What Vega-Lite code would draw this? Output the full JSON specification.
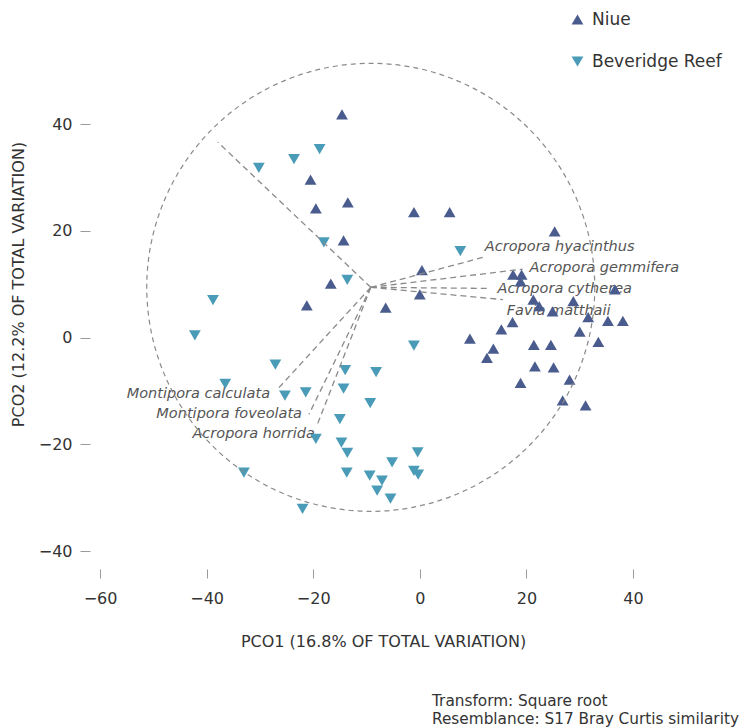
{
  "$schema": "https://vega.github.io/schema/vega-lite/v6.json",
  "width": 533,
  "height": 427,
  "autosize": {"type": "none"},
  "padding": {"left": 100, "top": 124, "right": 108, "bottom": 177},
  "background": "white",
  "title": {
    "text": ["Transform: Square root", "Resemblance: S17 Bray Curtis similarity"],
    "orient": "bottom",
    "anchor": "start",
    "frame": "group",
    "align": "left",
    "dx": 332,
    "offset": 45,
    "font": "DejaVu Sans",
    "fontSize": 15.3,
    "fontWeight": "normal",
    "color": "#333333",
    "lineHeight": 18
  },
  "datasets": {
    "samples": [
      {"x": -14.6, "y": 41.8, "location": "Niue"},
      {"x": -20.5, "y": 29.6, "location": "Niue"},
      {"x": -19.5, "y": 24.2, "location": "Niue"},
      {"x": -13.5, "y": 25.3, "location": "Niue"},
      {"x": -14.3, "y": 18.2, "location": "Niue"},
      {"x": -1.1, "y": 23.5, "location": "Niue"},
      {"x": 5.6, "y": 23.5, "location": "Niue"},
      {"x": -16.7, "y": 10.1, "location": "Niue"},
      {"x": -21.2, "y": 6.0, "location": "Niue"},
      {"x": -6.4, "y": 5.6, "location": "Niue"},
      {"x": 0.4, "y": 12.6, "location": "Niue"},
      {"x": 0.0, "y": 8.1, "location": "Niue"},
      {"x": 25.3, "y": 19.9, "location": "Niue"},
      {"x": 17.5, "y": 11.8, "location": "Niue"},
      {"x": 19.1, "y": 11.8, "location": "Niue"},
      {"x": 18.9, "y": 10.5, "location": "Niue"},
      {"x": 21.3, "y": 7.1, "location": "Niue"},
      {"x": 22.4, "y": 5.9, "location": "Niue"},
      {"x": 28.8, "y": 6.8, "location": "Niue"},
      {"x": 36.6, "y": 9.0, "location": "Niue"},
      {"x": 24.9, "y": 4.9, "location": "Niue"},
      {"x": 31.6, "y": 3.8, "location": "Niue"},
      {"x": 35.3, "y": 3.1, "location": "Niue"},
      {"x": 38.1, "y": 3.1, "location": "Niue"},
      {"x": 30.0, "y": 1.1, "location": "Niue"},
      {"x": 33.5, "y": -0.8, "location": "Niue"},
      {"x": 17.4, "y": 2.9, "location": "Niue"},
      {"x": 15.3, "y": 1.5, "location": "Niue"},
      {"x": 9.4, "y": -0.2, "location": "Niue"},
      {"x": 13.8, "y": -2.1, "location": "Niue"},
      {"x": 12.6, "y": -3.8, "location": "Niue"},
      {"x": 21.4, "y": -1.4, "location": "Niue"},
      {"x": 24.6, "y": -1.4, "location": "Niue"},
      {"x": 21.6, "y": -5.4, "location": "Niue"},
      {"x": 25.1, "y": -5.6, "location": "Niue"},
      {"x": 18.9, "y": -8.5, "location": "Niue"},
      {"x": 28.1, "y": -7.9, "location": "Niue"},
      {"x": 26.8, "y": -11.8, "location": "Niue"},
      {"x": 31.1, "y": -12.7, "location": "Niue"},
      {"x": -18.8, "y": 35.3, "location": "Beveridge Reef"},
      {"x": -23.6, "y": 33.4, "location": "Beveridge Reef"},
      {"x": -30.2, "y": 31.8, "location": "Beveridge Reef"},
      {"x": -18.0, "y": 17.8, "location": "Beveridge Reef"},
      {"x": -13.6, "y": 10.8, "location": "Beveridge Reef"},
      {"x": 7.6, "y": 16.2, "location": "Beveridge Reef"},
      {"x": -38.8, "y": 7.0, "location": "Beveridge Reef"},
      {"x": -42.2, "y": 0.4, "location": "Beveridge Reef"},
      {"x": -27.1, "y": -5.1, "location": "Beveridge Reef"},
      {"x": -36.5, "y": -8.7, "location": "Beveridge Reef"},
      {"x": -25.3, "y": -10.9, "location": "Beveridge Reef"},
      {"x": -21.4, "y": -10.3, "location": "Beveridge Reef"},
      {"x": -14.0, "y": -6.1, "location": "Beveridge Reef"},
      {"x": -14.3, "y": -9.6, "location": "Beveridge Reef"},
      {"x": -15.0, "y": -15.3, "location": "Beveridge Reef"},
      {"x": -19.5, "y": -19.0, "location": "Beveridge Reef"},
      {"x": -14.7, "y": -19.7, "location": "Beveridge Reef"},
      {"x": -13.6, "y": -21.6, "location": "Beveridge Reef"},
      {"x": -13.7, "y": -25.3, "location": "Beveridge Reef"},
      {"x": -33.0, "y": -25.3, "location": "Beveridge Reef"},
      {"x": -22.0, "y": -32.1, "location": "Beveridge Reef"},
      {"x": -8.2, "y": -6.5, "location": "Beveridge Reef"},
      {"x": -9.3, "y": -12.3, "location": "Beveridge Reef"},
      {"x": -1.1, "y": -1.5, "location": "Beveridge Reef"},
      {"x": -0.4, "y": -21.5, "location": "Beveridge Reef"},
      {"x": -5.2, "y": -23.4, "location": "Beveridge Reef"},
      {"x": -9.4, "y": -25.9, "location": "Beveridge Reef"},
      {"x": -7.1, "y": -26.8, "location": "Beveridge Reef"},
      {"x": -8.0, "y": -28.7, "location": "Beveridge Reef"},
      {"x": -5.5, "y": -30.2, "location": "Beveridge Reef"},
      {"x": -1.1, "y": -25.0, "location": "Beveridge Reef"},
      {"x": -0.3, "y": -25.7, "location": "Beveridge Reef"}
    ],
    "vectors": [
      {"species": "", "x0": -9.2, "y0": 9.4, "x1": -37.9, "y1": 36.6, "lx": -37.9, "ly": 36.6, "side": "none"},
      {"species": "Acropora hyacinthus", "x0": -9.2, "y0": 9.4, "x1": 11.8, "y1": 15.0, "lx": 12.2, "ly": 16.9, "side": "right"},
      {"species": "Acropora gemmifera", "x0": -9.2, "y0": 9.4, "x1": 19.3, "y1": 12.8, "lx": 20.6, "ly": 13.1, "side": "right"},
      {"species": "Acropora cytherea", "x0": -9.2, "y0": 9.4, "x1": 12.9, "y1": 9.2, "lx": 14.6, "ly": 9.0, "side": "right"},
      {"species": "Favia matthaii", "x0": -9.2, "y0": 9.4, "x1": 15.6, "y1": 7.1, "lx": 16.3, "ly": 4.9, "side": "right"},
      {"species": "Montipora calculata", "x0": -9.2, "y0": 9.4, "x1": -26.8, "y1": -9.8, "lx": -28.1, "ly": -10.5, "side": "left"},
      {"species": "Montipora foveolata", "x0": -9.2, "y0": 9.4, "x1": -20.8, "y1": -14.4, "lx": -22.1, "ly": -14.3, "side": "left"},
      {"species": "Acropora horrida", "x0": -9.2, "y0": 9.4, "x1": -19.3, "y1": -16.5, "lx": -19.7, "ly": -18.0, "side": "left"}
    ],
    "circle": [
      {"cx": -9.2, "cy": 9.4, "r": 42}
    ]
  },
  "layer": [
    {
      "data": {"name": "vectors"},
      "transform": [{"filter": "datum.side == 'right'"}],
      "mark": {"type": "text", "align": "left", "baseline": "middle", "font": "DejaVu Sans", "fontSize": 14.5, "fontStyle": "italic", "fontWeight": "normal", "color": "#555555"},
      "encoding": {
        "x": {"field": "lx", "type": "quantitative", "scale": {"domain": [-60, 40], "nice": false, "zero": false}, "axis": {"values": [-60, -40, -20, 0, 20, 40], "labelFlush": false}, "title": "PCO1 (16.8% OF TOTAL VARIATION)"},
        "y": {"field": "ly", "type": "quantitative", "scale": {"domain": [-40, 40], "nice": false, "zero": false}, "axis": {"values": [-40, -20, 0, 20, 40], "labelFlush": false}, "title": "PCO2 (12.2% OF TOTAL VARIATION)"},
        "text": {"field": "species"}
      }
    },
    {
      "data": {"name": "vectors"},
      "transform": [{"filter": "datum.side == 'left'"}],
      "mark": {"type": "text", "align": "right", "baseline": "middle", "font": "DejaVu Sans", "fontSize": 14.5, "fontStyle": "italic", "fontWeight": "normal", "color": "#555555"},
      "encoding": {
        "x": {"field": "lx", "type": "quantitative", "scale": {"domain": [-60, 40], "nice": false, "zero": false}, "axis": {"values": [-60, -40, -20, 0, 20, 40], "labelFlush": false}, "title": "PCO1 (16.8% OF TOTAL VARIATION)"},
        "y": {"field": "ly", "type": "quantitative", "scale": {"domain": [-40, 40], "nice": false, "zero": false}, "axis": {"values": [-40, -20, 0, 20, 40], "labelFlush": false}, "title": "PCO2 (12.2% OF TOTAL VARIATION)"},
        "text": {"field": "species"}
      }
    },
    {
      "data": {"name": "samples"},
      "mark": {"type": "point", "filled": true, "opacity": 1, "size": 140},
      "encoding": {
        "x": {"field": "x", "type": "quantitative", "scale": {"domain": [-60, 40], "nice": false, "zero": false}, "axis": {"values": [-60, -40, -20, 0, 20, 40], "labelFlush": false}, "title": "PCO1 (16.8% OF TOTAL VARIATION)"},
        "y": {"field": "y", "type": "quantitative", "scale": {"domain": [-40, 40], "nice": false, "zero": false}, "axis": {"values": [-40, -20, 0, 20, 40], "labelFlush": false}, "title": "PCO2 (12.2% OF TOTAL VARIATION)"},
        "shape": {"field": "location", "type": "nominal", "scale": {"domain": ["Niue", "Beveridge Reef"], "range": ["triangle-up", "triangle-down"]}, "legend": {"title": null}},
        "color": {"field": "location", "type": "nominal", "scale": {"domain": ["Niue", "Beveridge Reef"], "range": ["#4a5b8d", "#4a9bb7"]}, "legend": {"title": null}}
      }
    },
    {
      "data": {"name": "vectors"},
      "mark": {"type": "rule", "color": "#8a8a8a", "strokeWidth": 1.3, "strokeDash": [6, 4]},
      "encoding": {
        "x": {"field": "x0", "type": "quantitative", "scale": {"domain": [-60, 40], "nice": false, "zero": false}, "axis": {"values": [-60, -40, -20, 0, 20, 40], "labelFlush": false}, "title": "PCO1 (16.8% OF TOTAL VARIATION)"},
        "y": {"field": "y0", "type": "quantitative", "scale": {"domain": [-40, 40], "nice": false, "zero": false}, "axis": {"values": [-40, -20, 0, 20, 40], "labelFlush": false}, "title": "PCO2 (12.2% OF TOTAL VARIATION)"},
        "x2": {"field": "x1"},
        "y2": {"field": "y1"}
      }
    },
    {
      "data": {"name": "circle"},
      "mark": {"type": "point", "shape": "circle", "filled": false, "color": "#8a8a8a", "strokeWidth": 1.2, "strokeDash": [5, 4], "opacity": 1, "size": 200704},
      "encoding": {
        "x": {"field": "cx", "type": "quantitative", "scale": {"domain": [-60, 40], "nice": false, "zero": false}, "axis": {"values": [-60, -40, -20, 0, 20, 40], "labelFlush": false}, "title": "PCO1 (16.8% OF TOTAL VARIATION)"},
        "y": {"field": "cy", "type": "quantitative", "scale": {"domain": [-40, 40], "nice": false, "zero": false}, "axis": {"values": [-40, -20, 0, 20, 40], "labelFlush": false}, "title": "PCO2 (12.2% OF TOTAL VARIATION)"}
      }
    }
  ],
  "config": {
    "view": {"stroke": null},
    "font": "DejaVu Sans",
    "axis": {
      "grid": false,
      "domain": false,
      "labelFlush": false,
      "tickColor": "#9a9a9a",
      "tickWidth": 1,
      "labelFont": "DejaVu Sans",
      "labelFontSize": 16,
      "labelColor": "#333333",
      "titleFont": "DejaVu Sans",
      "titleFontSize": 16,
      "titleFontWeight": "normal",
      "titleColor": "#333333"
    },
    "axisX": {
      "offset": 18,
      "tickSize": 9,
      "labelPadding": 12,
      "titleX": 283,
      "titleY": 72,
      "titleBaseline": "middle",
      "titleAlign": "center"
    },
    "axisY": {
      "offset": 10,
      "tickSize": 10,
      "labelPadding": 8,
      "titleX": -72,
      "titleY": 160,
      "titleBaseline": "middle",
      "titleAlign": "center",
      "titleAngle": -90
    },
    "legend": {
      "orient": "none",
      "legendX": 469,
      "legendY": -113,
      "padding": 0,
      "labelFont": "DejaVu Sans",
      "labelFontSize": 17,
      "labelColor": "#333333",
      "labelOffset": 6,
      "rowPadding": 24,
      "symbolSize": 140,
      "symbolStrokeWidth": 0
    }
  }
}
